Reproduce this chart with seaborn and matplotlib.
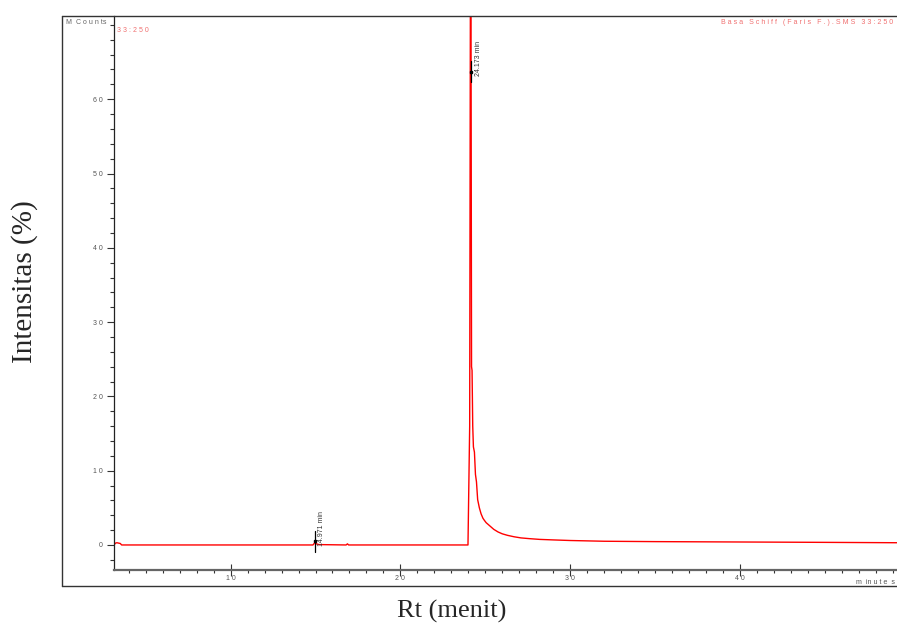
import numpy as np
import matplotlib
matplotlib.use("Agg")
import matplotlib.pyplot as plt
import seaborn as sns
from matplotlib.lines import Line2D
from matplotlib.ticker import MultipleLocator, FixedLocator

# chromatogram trace (minutes, counts)
rt_min = [3.13, 3.22, 3.30, 3.50, 3.58, 14.85, 14.92, 14.97, 15.05, 15.20, 16.80, 16.88, 16.95,
          23.98, 24.03, 24.08, 24.14, 24.19, 24.22, 24.26, 24.30, 24.36, 24.42, 24.48, 24.55,
          24.65, 24.75, 24.86, 24.95, 25.05, 25.15, 25.30, 25.50, 25.75, 26.00, 26.30, 26.70,
          27.10, 27.60, 28.20, 29.00, 30.00, 32.00, 35.00, 40.00, 45.00, 49.30]
counts = [0.0, 0.25, 0.3, 0.2, 0.0, 0.0, 0.2, 0.35, 0.15, 0.05, 0.0, 0.15, 0.0,
          0.0, 8.0, 16.0, 100.0, 24.0, 23.5, 16.0, 13.2, 12.5, 9.5, 8.5, 6.1,
          5.0, 4.2, 3.6, 3.3, 3.0, 2.8, 2.5, 2.1, 1.75, 1.5, 1.3, 1.1,
          0.95, 0.85, 0.75, 0.68, 0.6, 0.5, 0.45, 0.4, 0.35, 0.3]

peak_rt = [14.971, 24.173]
peak_marker_y = [0.5, 63.7]
peak_labels = ["14.971 min", "24.173 min"]

x_major = [10, 20, 30, 40]
x_ticklabels = ["1 0", "2 0", "3 0", "4 0"]
y_major = [0, 10, 20, 30, 40, 50, 60]
y_ticklabels = ["0", "1 0", "2 0", "3 0", "4 0", "5 0", "6 0"]

W, H = 897, 626


def fx(px):
    return px / W


def fy(py):
    return 1 - py / H


sns.set_style("ticks")
plt.rcParams["font.family"] = ["Liberation Sans", "DejaVu Sans"]

fig = plt.figure(figsize=(W / 100, H / 100), dpi=100)
ax = fig.add_axes([fx(114), fy(570), fx(897) - fx(114), fy(16) - fy(570)])

sns.lineplot(x=rt_min, y=counts, ax=ax, color="#ff0000", linewidth=1.0,
             sort=False, estimator=None)

ax.set_xlim(3.13, 49.25)
ax.set_ylim(-3.37, 71.2)

ax.xaxis.set_major_locator(FixedLocator(x_major))
ax.set_xticklabels(x_ticklabels)
ax.xaxis.set_minor_locator(MultipleLocator(1))
ax.yaxis.set_major_locator(FixedLocator(y_major))
ax.set_yticklabels(y_ticklabels)
ax.yaxis.set_minor_locator(MultipleLocator(2))

ax.tick_params(axis="y", which="major", direction="out", length=5, width=0.8,
               color="#333333", labelsize=5, labelcolor="#555555", pad=3)
ax.tick_params(axis="y", which="minor", direction="out", length=3, width=0.8,
               color="#333333")
ax.tick_params(axis="x", which="major", direction="inout", length=8, width=0.8,
               color="#333333", labelsize=5, labelcolor="#555555", pad=-0.5)
ax.tick_params(axis="x", which="minor", direction="out", length=2, width=0.8,
               color="#333333")

for s in ["top", "right"]:
    ax.spines[s].set_visible(False)
ax.spines["left"].set_color("#222222")
ax.spines["left"].set_linewidth(0.9)
ax.spines["bottom"].set_color("#666666")
ax.spines["bottom"].set_linewidth(1.6)

# peak markers and labels
for rt, my, lab in zip(peak_rt, peak_marker_y, peak_labels):
    ax.plot([rt, rt], [my - 1.4, my + 1.4], color="black", lw=0.9)
    ax.plot([rt], [my], marker="s", ms=2.0, color="black")
    ax.text(rt + 0.2, my - 0.6, lab, rotation=90, fontsize=5, color="#333333",
            ha="left", va="bottom")

ax.set_xlabel("")
ax.set_ylabel("")

# outer frame of the instrument printout
frame = dict(color="#333333", lw=1.0, transform=fig.transFigure)
fig.add_artist(Line2D([fx(62), fx(897)], [fy(16), fy(16)], **frame))
fig.add_artist(Line2D([fx(62), fx(62)], [fy(16), fy(586)], **frame))
fig.add_artist(Line2D([fx(62), fx(897)], [fy(586), fy(586)], **frame))

fig.text(fx(66), fy(22.5), "M  C o u n ts", fontsize=5, color="#666666", va="center")
fig.text(fx(117), fy(30.5), "3 3 : 2 5 0", fontsize=5, color="#f07070", va="center")
fig.text(fx(893), fy(23), "B a s a   S c h i f f   ( F a r i s   F . ) . S M S   3 3 : 2 5 0",
         fontsize=5, color="#f07070", ha="right", va="center")
fig.text(fx(895), fy(583), "m  in u t e  s", fontsize=5, color="#555555", ha="right", va="center")

fig.text(fx(452), fy(611), "Rt (menit)", fontsize=19, ha="center", va="center",
         family=["Liberation Serif", "DejaVu Serif"])
fig.text(fx(25), fy(282), "Intensitas (%)", fontsize=21, rotation=90, ha="center", va="center",
         family=["Liberation Serif", "DejaVu Serif"])

fig.savefig("out.png", dpi=100)
